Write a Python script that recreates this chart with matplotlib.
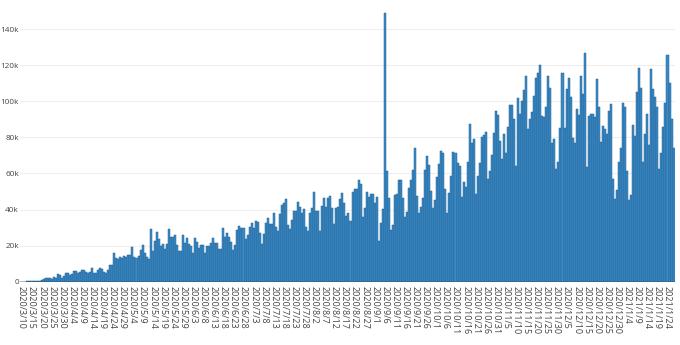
import matplotlib
matplotlib.use("Agg")
import matplotlib.pyplot as plt
import pandas as pd
import numpy as np

start_date = "2020-03-10"
tick_step = 5

# daily values in thousands
values_k = [
    0.1, 0.1, 0.1, 0.2, 0.2, 0.2, 0.3, 0.3, 0.4, 0.5,
    1.0, 1.5, 1.8, 2.0, 1.8, 1.5, 2.5, 2.2, 4.5, 3.5,
    2.2, 3.0, 5.0, 5.0, 3.5, 4.5, 6.0, 6.0, 5.0, 5.5,
    6.5, 6.5, 5.5, 5.0, 5.5, 7.5, 5.0, 5.0, 6.5, 7.5,
    7.0, 5.5, 5.0, 6.5, 9.0, 9.0,
    # i46..i92
    15.7, 13.0, 12.4, 13.5, 13.3, 14.2, 13.9, 14.6, 14.8, 19.0,
    13.5, 13.0, 14.2, 17.6, 20.1, 16.0, 13.5, 12.4, 29.0, 17.2,
    22.5, 27.4, 23.5, 20.0, 20.9, 18.1, 20.9, 29.0, 25.0, 25.0,
    25.7, 20.3, 16.8, 16.8, 25.7, 21.6, 24.0, 20.9, 19.8, 15.7,
    24.0, 22.2, 18.5, 20.3, 20.3, 15.7, 19.8,
    # i93..i139
    19.8, 21.3, 24.4, 21.6, 21.6, 18.3, 18.3, 29.6, 25.0, 26.8,
    25.0, 22.2, 17.6, 20.3, 28.7, 31.0, 30.0, 30.0, 23.5, 25.9,
    30.5, 32.3, 29.6, 33.8, 33.3, 26.8, 20.9, 26.4, 32.3, 35.5,
    32.0, 31.8, 38.3, 30.5, 28.1, 37.5, 42.5, 43.4, 45.7, 31.4,
    29.4, 34.2, 39.4, 39.4, 44.2, 41.2, 37.9,
    # i140..i180
    40.3, 30.1, 28.1, 37.9, 40.7, 49.5, 39.2, 39.4, 28.3, 42.0,
    46.2, 41.2, 46.2, 47.5, 40.7, 31.8, 40.7, 41.6, 45.7, 49.4,
    43.8, 36.6, 37.9, 33.8, 49.5, 51.2, 51.4, 56.4, 54.2, 35.7,
    40.7, 49.9, 47.1, 48.6, 48.6, 43.4, 46.8, 22.7, 32.3, 40.3,
    149.0,
    # i181..i183
    61.5, 46.2, 28.7,
    # i184..i230
    31.4, 48.0, 48.6, 56.4, 56.4, 46.6, 35.7, 38.8, 52.1, 56.4,
    61.9, 73.9, 47.7, 37.9, 41.6, 46.2, 61.9, 69.7, 64.7, 50.5,
    40.9, 45.3, 58.2, 65.2, 72.5, 71.5, 51.2, 37.9, 49.4, 58.6,
    72.1, 71.5, 66.0, 64.1, 47.1, 55.5, 52.7, 66.5, 87.4, 76.7,
    78.9, 48.4, 58.6, 66.0, 80.4, 81.3, 83.2,
    # i231..i276
    56.7, 61.6, 70.2, 82.6, 94.8, 92.4, 78.2, 67.8, 81.9, 71.5,
    85.6, 98.0, 98.0, 90.2, 64.3, 101.7, 93.0, 100.4, 106.3, 114.0,
    84.5, 90.0, 93.9, 103.1, 113.1, 115.5, 120.1, 92.0, 91.1, 96.7,
    114.0, 107.2, 76.7, 78.9, 62.3, 66.5, 85.4, 115.5, 85.4, 106.7,
    112.8, 102.2, 79.5, 77.1, 95.6, 92.4,
    # i277..i323
    114.0, 104.0, 126.6, 63.8, 91.9, 92.8, 93.0, 91.5, 112.2, 96.7,
    77.6, 86.3, 84.5, 81.9, 94.6, 98.5, 56.9, 45.8, 50.8, 66.2,
    74.3, 99.3, 96.7, 61.6, 45.3, 48.1, 86.9, 80.8, 105.4, 118.3,
    107.6, 66.5, 81.7, 93.0, 75.8, 117.7, 106.8, 102.2, 96.7, 62.5,
    71.5, 86.0, 98.9, 125.7, 110.0, 90.0, 73.9,
]
values = np.array(values_k) * 1000

dates = pd.date_range(start_date, periods=len(values), freq="D")
date_labels = [f"{d.year}/{d.month}/{d.day}" for d in dates]

y_ticks = [0, 20000, 40000, 60000, 80000, 100000, 120000, 140000]
y_tick_labels = ["0", "20k", "40k", "60k", "80k", "100k", "120k", "140k"]

plt.rcParams['font.family'] = ['Open Sans', 'DejaVu Sans']

fig = plt.figure(figsize=(6.8, 3.45), dpi=100)
ax = fig.add_axes([0.0300, 0.1835, 0.9620, 0.7945])

x = np.arange(len(values))
ax.bar(x, values, width=1.0, facecolor="#3d8bc4", edgecolor="#1f5f96",
       linewidth=0.35)

ax.set_xlim(-0.5, len(values) - 0.5)
ax.set_ylim(0, 152000)

ax.set_yticks(y_ticks)
ax.set_yticklabels(y_tick_labels, fontsize=5.9, color="#444444")
ax.yaxis.grid(True, color="#eeeeee", linewidth=0.8)
ax.set_axisbelow(True)
ax.axhline(0, color="#444444", linewidth=1.0, zorder=3)

tick_pos = x[::tick_step]
ax.set_xticks(tick_pos)
ax.set_xticklabels([date_labels[i] for i in tick_pos], rotation=-90,
                   fontsize=6.5, color="#444444", va="top", ha="center")

ax.tick_params(axis="y", length=0, pad=1.0)
ax.tick_params(axis="x", length=0, pad=3.2)
for s in ax.spines.values():
    s.set_visible(False)

fig.savefig("out.png", dpi=100)
